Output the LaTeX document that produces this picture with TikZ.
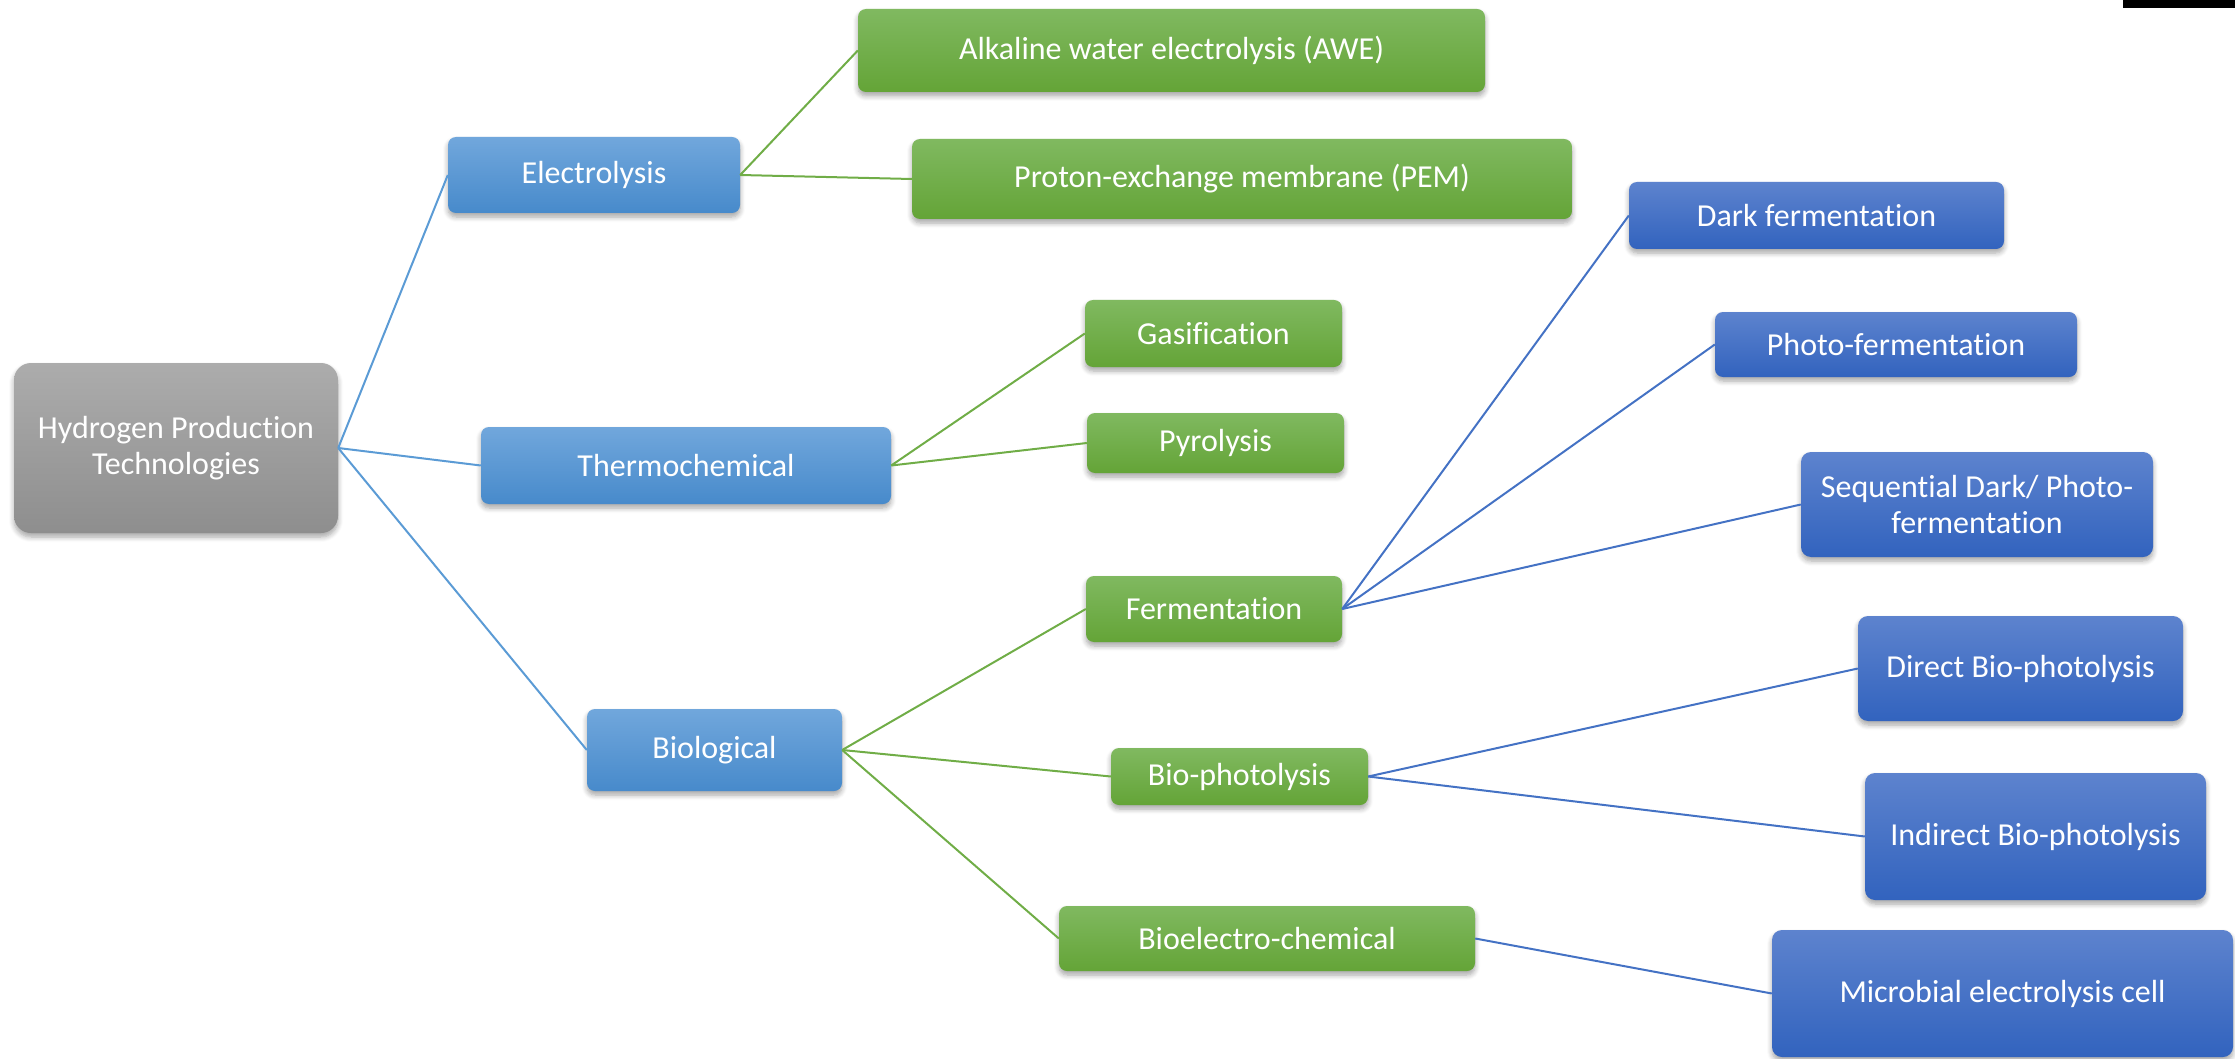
\documentclass[tikz,border=0pt]{standalone}
\usepackage{fontspec}
\setmainfont[Ligatures={NoCommon}]{Carlito}
\usetikzlibrary{shadows.blur}

\definecolor{grayTop}{RGB}{172,172,172}
\definecolor{grayBot}{RGB}{142,142,142}
\definecolor{lblueTop}{RGB}{113,167,220}
\definecolor{lblueBot}{RGB}{71,138,203}
\definecolor{greenTop}{RGB}{128,185,96}
\definecolor{greenBot}{RGB}{100,164,55}
\definecolor{dblueTop}{RGB}{93,131,206}
\definecolor{dblueBot}{RGB}{50,99,190}
\definecolor{lineLblue}{RGB}{91,155,213}
\definecolor{lineGreen}{RGB}{112,173,71}
\definecolor{lineDblue}{RGB}{68,114,196}

\tikzset{
  box/.style={rectangle, rounded corners=8pt, text=white, align=center,
    inner sep=0pt, font=\fontsize{32}{36}\selectfont,
    blur shadow={shadow xshift=0pt, shadow yshift=-4pt, shadow blur radius=5pt,
      shadow opacity=35, shadow blur steps=6}},
  rootbox/.style={box, top color=grayTop, bottom color=grayBot, rounded corners=17pt},
  lvlone/.style={box, top color=lblueTop, bottom color=lblueBot},
  lvltwo/.style={box, top color=greenTop, bottom color=greenBot},
  lvlthree/.style={box, top color=dblueTop, bottom color=dblueBot},
  bigbox/.style={rounded corners=10pt},
  linkone/.style={draw=lineLblue, line width=2pt},
  linktwo/.style={draw=lineGreen, line width=2pt},
  linkthree/.style={draw=lineDblue, line width=2pt},
}

\begin{document}
\begin{tikzpicture}[x=1pt, y=-1pt]
  \useasboundingbox (0,0) rectangle (2235,1059);

  % root
  \node[rootbox, minimum width=324pt, minimum height=170pt] (root) at (176,448)
    {Hydrogen Production\\Technologies};

  % first level
  \node[lvlone, minimum width=292pt, minimum height=76pt] (elec) at (594,175) {Electrolysis};
  \node[lvlone, minimum width=410pt, minimum height=77pt] (thermo) at (686,465.5) {Thermochemical};
  \node[lvlone, minimum width=255pt, minimum height=82pt] (bio) at (714.5,750) {Biological};

  % second level
  \node[lvltwo, minimum width=627pt, minimum height=83pt] (awe) at (1171.5,50.5) {Alkaline water electrolysis (AWE)};
  \node[lvltwo, minimum width=660pt, minimum height=80pt] (pem) at (1242,179) {Proton-exchange membrane (PEM)};
  \node[lvltwo, minimum width=257pt, minimum height=67pt] (gas) at (1213.5,333.5) {Gasification};
  \node[lvltwo, minimum width=257pt, minimum height=60pt] (pyro) at (1215.5,443) {Pyrolysis};
  \node[lvltwo, minimum width=256pt, minimum height=66pt] (ferm) at (1214,609) {Fermentation};
  \node[lvltwo, minimum width=257pt, minimum height=57pt] (bioph) at (1239.5,776.5) {Bio-photolysis};
  \node[lvltwo, minimum width=416pt, minimum height=65pt] (bioel) at (1267,938.5) {Bioelectro-chemical};

  % third level
  \node[lvlthree, minimum width=375pt, minimum height=67pt] (dark) at (1816.5,215.5) {Dark fermentation};
  \node[lvlthree, minimum width=362pt, minimum height=65pt] (photo) at (1896,344.5) {Photo-fermentation};
  \node[lvlthree, bigbox, minimum width=352pt, minimum height=105pt] (seq) at (1977,504.5)
    {Sequential Dark/ Photo-\\fermentation};
  \node[lvlthree, bigbox, minimum width=325pt, minimum height=105pt] (direct) at (2020.5,668.5) {Direct Bio-photolysis};
  \node[lvlthree, bigbox, minimum width=341pt, minimum height=127pt] (indirect) at (2035.5,836.5) {Indirect Bio-photolysis};
  \node[lvlthree, bigbox, minimum width=461pt, minimum height=127pt] (mec) at (2002.5,993.5) {Microbial electrolysis cell};

  % connectors
  \draw[linkone] (root.east) -- (elec.west);
  \draw[linkone] (root.east) -- (thermo.west);
  \draw[linkone] (root.east) -- (bio.west);

  \draw[linktwo] (elec.east) -- (awe.west);
  \draw[linktwo] (elec.east) -- (pem.west);
  \draw[linktwo] (thermo.east) -- (gas.west);
  \draw[linktwo] (thermo.east) -- (pyro.west);
  \draw[linktwo] (bio.east) -- (ferm.west);
  \draw[linktwo] (bio.east) -- (bioph.west);
  \draw[linktwo] (bio.east) -- (bioel.west);

  \draw[linkthree] (ferm.east) -- (dark.west);
  \draw[linkthree] (ferm.east) -- (photo.west);
  \draw[linkthree] (ferm.east) -- (seq.west);
  \draw[linkthree] (bioph.east) -- (direct.west);
  \draw[linkthree] (bioph.east) -- (indirect.west);
  \draw[linkthree] (bioel.east) -- (mec.west);

  % corner tab
  \fill[black] (2123,0) rectangle (2235,8);
\end{tikzpicture}
\end{document}
